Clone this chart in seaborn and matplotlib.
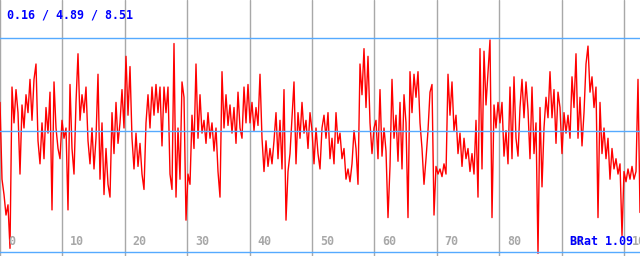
import numpy as np
import pandas as pd
import matplotlib
matplotlib.use("Agg")
import matplotlib.pyplot as plt
import seaborn as sns

# Series values sampled every 2 px of the original chart (x 0..640 px)
values = [
    6.0, 3.0, 2.4, 1.6, 2.0, 0.3, 6.6, 5.2, 6.5, 5.6,
    3.2, 5.9, 5.0, 6.3, 5.6, 6.9, 5.3, 6.9, 7.5, 4.5,
    3.6, 5.2, 3.8, 5.8, 4.8, 6.4, 1.8, 6.8, 5.0, 4.2,
    3.8, 5.3, 4.6, 5.0, 1.8, 6.7, 4.2, 3.2, 6.0, 7.9,
    5.3, 6.3, 5.6, 6.6, 4.5, 3.6, 5.0, 3.4, 4.6, 7.1,
    3.0, 5.2, 2.4, 4.2, 2.8, 2.3, 5.6, 4.0, 6.0, 4.4,
    5.2, 6.5, 5.0, 7.8, 5.5, 7.4, 4.6, 3.4, 4.8, 3.5,
    4.4, 3.2, 2.6, 5.2, 6.3, 5.0, 6.6, 5.5, 6.7, 5.6,
    6.6, 4.3, 6.6, 5.6, 6.6, 3.2, 2.6, 8.3, 2.3, 5.0,
    3.0, 6.8, 6.2, 1.4, 3.2, 2.8, 5.5, 4.2, 7.5, 4.6,
    6.3, 4.8, 5.3, 4.4, 5.6, 4.6, 5.2, 4.1, 5.0, 3.3,
    2.3, 7.2, 5.0, 6.3, 5.1, 5.9, 4.8, 5.8, 4.4, 6.4,
    5.0, 4.6, 6.6, 5.2, 6.7, 5.2, 6.0, 4.9, 5.8, 5.1,
    7.1, 4.6, 3.3, 4.5, 3.5, 4.2, 3.6, 4.5, 5.6, 3.8,
    5.3, 3.4, 6.5, 1.4, 3.3, 4.0, 5.4, 6.8, 3.6, 5.6,
    4.6, 6.0, 4.8, 5.3, 4.2, 5.6, 4.9, 3.6, 5.0, 4.0,
    3.4, 5.0, 5.5, 4.6, 5.6, 3.8, 4.6, 3.6, 5.6, 4.4,
    4.8, 3.8, 4.2, 3.0, 3.4, 2.9, 3.6, 4.9, 4.2, 2.8,
    7.5, 6.3, 8.1, 5.8, 7.8, 5.2, 4.0, 5.0, 5.3, 3.8,
    6.5, 3.9, 5.0, 4.1, 1.5, 3.5, 6.9, 4.6, 5.5, 3.7,
    6.0, 3.4, 6.3, 5.2, 1.5, 7.2, 5.6, 7.1, 6.2, 7.2,
    5.2, 4.2, 2.8, 3.8, 4.9, 6.4, 6.7, 1.6, 3.5, 3.2,
    3.4, 3.1, 3.6, 3.2, 7.1, 5.5, 6.8, 4.9, 5.5, 4.0,
    4.8, 3.5, 4.6, 3.8, 4.2, 3.3, 4.0, 3.2, 5.3, 2.3,
    8.1, 3.4, 8.0, 5.9, 7.2, 8.44, 1.5, 5.9, 5.0, 6.0,
    5.2, 6.0, 3.9, 4.9, 3.6, 6.6, 3.8, 7.0, 4.6, 3.9,
    5.8, 6.9, 5.4, 6.8, 5.7, 3.8, 6.6, 4.0, 5.2, 0.1,
    5.8, 2.7, 5.0, 6.2, 5.4, 7.2, 5.4, 6.5, 4.4, 6.4,
    5.8, 4.0, 5.6, 4.8, 5.5, 4.6, 7.0, 5.8, 7.9, 4.6,
    6.2, 4.3, 5.6, 7.5, 8.2, 6.4, 7.0, 5.8, 6.6, 1.5,
    6.0, 4.0, 5.0, 3.8, 4.6, 3.0, 4.2, 3.4, 3.8, 3.2,
    3.6, 0.8, 3.3, 2.9, 3.4, 3.0, 3.5, 3.0, 3.3, 6.9,
    1.7,
]
stats = [0.16, 4.89, 8.51]          # min / mean / max
stats_label = "0.16 / 4.89 / 8.51"
ratio_label = "BRat 1.09"
xticks = [0, 10, 20, 30, 40, 50, 60, 70, 80, 90, 100]

x_max = 640 * 100 / 624
xs = np.linspace(0, x_max, len(values))
df = pd.DataFrame({"x": xs, "v": values})

sns.set_style("white")
fig = plt.figure(figsize=(6.4, 2.56), dpi=100)
ax = fig.add_axes([0, 0, 1, 1])
ax.set_xlim(0, x_max)
ax.set_ylim(0, 10)

for t in xticks:
    ax.axvline(t, color="#a8a8a8", lw=1.0, zorder=0)

sns.lineplot(data=df, x="x", y="v", color="#ff0000", lw=1.0,
             estimator=None, sort=False, ax=ax, zorder=2)

for s in stats:
    ax.axhline(s, color="#55aaff", lw=1.0, zorder=3)

mono = ["DejaVu Sans Mono"]
for t in xticks:
    ax.text(t + 1.25, 0.58, str(t), color="#a8a8a8", fontsize=8.4,
            family=mono, fontweight="bold", ha="left", va="center", zorder=4)

ax.text(1.15, 9.4, stats_label, color="#0000ff", fontsize=8.4, family=mono,
        fontweight="bold", ha="left", va="center", zorder=5)
ax.text(x_max - 1.2, 0.58, ratio_label, color="#0000ff", fontsize=8.4, family=mono,
        fontweight="bold", ha="right", va="center", zorder=5)

ax.set_xlabel("")
ax.set_ylabel("")
ax.set_xticks([])
ax.set_yticks([])
for sp in ax.spines.values():
    sp.set_visible(False)

fig.savefig("out.png", dpi=100)
